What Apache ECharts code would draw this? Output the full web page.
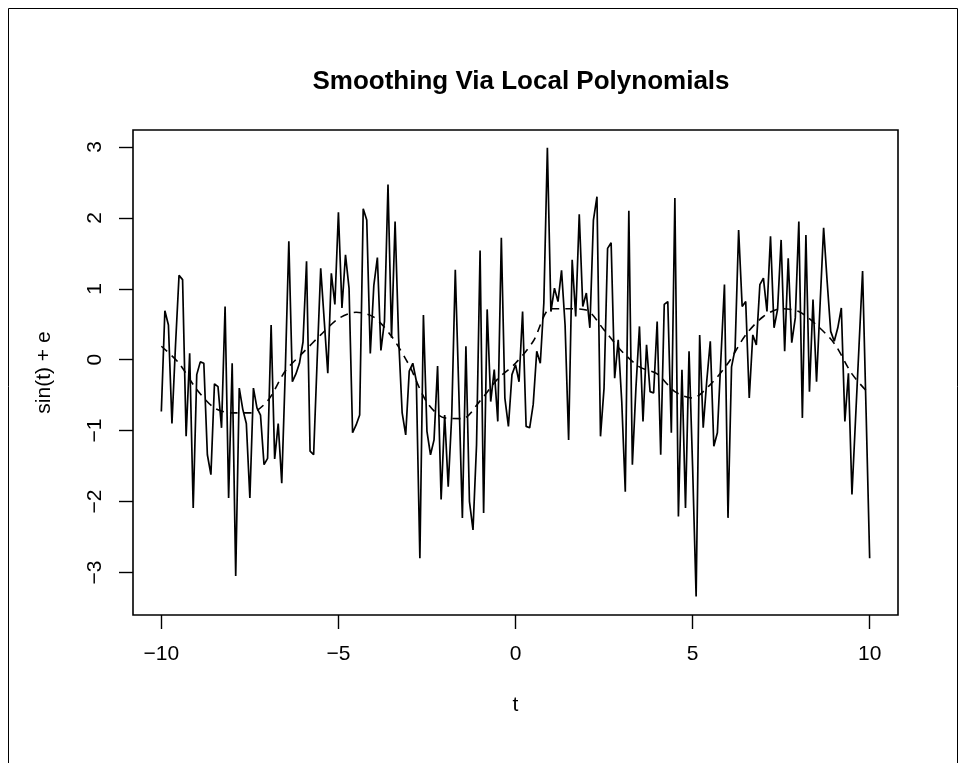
<!DOCTYPE html>
<html>
<head>
<meta charset="utf-8">
<script src="https://cdn.jsdelivr.net/npm/echarts@6/dist/echarts.min.js"></script>
<style>
  html, body { margin: 0; padding: 0; background: #fff; }
  #chart { width: 960px; height: 763px; }
</style>
</head>
<body>
<div id="chart"></div>
<script>
// noisy observations, t = -10 .. 10 step 0.1
const tStart = -10
const tStep = 0.1
const noisyValues = [
  -0.73, 0.69, 0.49, -0.9, 0.2, 1.19, 1.13, -1.08, 0.09, -2.09,
  -0.21, -0.03, -0.05, -1.34, -1.62, -0.34, -0.38, -0.96, 0.75, -1.95,
  -0.05, -3.05, -0.4, -0.7, -0.9, -1.95, -0.4, -0.68, -0.78, -1.48,
  -1.39, 0.49, -1.4, -0.9, -1.74, -0.16, 1.67, -0.31, -0.2, -0.05,
  0.25, 1.39, -1.29, -1.34, 0.0, 1.29, 0.55, -0.19, 1.22, 0.78,
  2.08, 0.73, 1.48, 1.01, -1.03, -0.92, -0.78, 2.13, 1.97, 0.09,
  1.05, 1.44, 0.13, 0.54, 2.47, 0.31, 1.95, 0.3, -0.75, -1.06,
  -0.16, -0.05, -0.3, -2.8, 0.63, -1.01, -1.34, -1.13, -0.09, -1.97,
  -0.78, -1.79, -0.78, 1.27, -0.45, -2.23, 0.19, -2.0, -2.4, -1.2,
  1.54, -2.16, 0.71, -0.59, -0.14, -0.87, 1.72, -0.54, -0.94, -0.21,
  -0.07, -0.31, 0.68, -0.94, -0.96, -0.63, 0.12, -0.05, 0.8, 2.99,
  0.68, 1.01, 0.82, 1.26, 0.49, -1.13, 1.41, 0.61, 2.05, 0.75,
  0.94, 0.45, 1.97, 2.3, -1.08, -0.4, 1.57, 1.65, -0.26, 0.28,
  -0.59, -1.86, 2.1, -1.48, -0.4, 0.47, -0.87, 0.21, -0.45, -0.47,
  0.54, -1.34, 0.78, 0.82, -1.03, 2.28, -2.21, -0.14, -2.09, 0.12,
  -1.5, -3.34, 0.35, -0.96, -0.3, 0.26, -1.22, -1.03, 0.02, 1.06,
  -2.23, -0.1, 0.15, 1.83, 0.75, 0.82, -0.54, 0.35, 0.21, 1.06,
  1.15, 0.68, 1.74, 0.45, 0.71, 1.69, 0.12, 1.43, 0.24, 0.59,
  1.95, -0.82, 1.76, -0.45, 0.85, -0.31, 0.78, 1.86, 1.1, 0.4,
  0.26, 0.45, 0.73, -0.87, -0.19, -1.9, -0.85, 0.2, 1.25, -0.75,
  -2.8
]
// local polynomial fit, read every 0.5
const smoothStep = 0.5
const smoothValues = [
  0.19, -0.05, -0.42, -0.68, -0.75, -0.75, -0.58, -0.16, 0.1, 0.35,
  0.58, 0.67, 0.6, 0.33, -0.08, -0.6, -0.82, -0.83, -0.58, -0.27,
  -0.05, 0.26, 0.72, 0.72, 0.7, 0.42, 0.12, -0.1, -0.2, -0.45,
  -0.54, -0.35, -0.05, 0.35, 0.61, 0.72, 0.68, 0.49, 0.23, -0.2,
  -0.49
]
const xTicks = [-10, -5, 0, 5, 10]
const yTicks = [-3, -2, -1, 0, 1, 2, 3]

const fontFamily = "'Liberation Sans', Arial, Helvetica, sans-serif"
const minus = function (v) { return String(v).replace('-', '\u2212') }

let noisyData = noisyValues.map(function (v, i) {
  return [+(tStart + i * tStep).toFixed(2), v]
})
let smoothData = smoothValues.map(function (v, i) {
  return [+(tStart + i * smoothStep).toFixed(2), v]
})

let myChart = echarts.init(document.getElementById('chart'))
let option = {
  backgroundColor: '#fff',
  animation: false,
  title: {
    text: 'Smoothing Via Local Polynomials',
    left: 516,
    top: 64,
    textAlign: 'center',
    textStyle: { fontFamily: fontFamily, fontSize: 26, fontWeight: 'bold', color: '#000' }
  },
  graphic: [{
    type: 'rect',
    shape: { x: 8.5, y: 8.5, width: 949, height: 780 },
    style: { fill: null, stroke: '#000', lineWidth: 1 },
    silent: true
  }],
  grid: {
    left: 133, top: 130, width: 765, height: 485,
    show: true, borderColor: '#000', borderWidth: 1.6, backgroundColor: 'transparent'
  },
  xAxis: {
    type: 'value',
    min: -10.8,
    max: 10.8,
    name: 't',
    nameLocation: 'middle',
    nameGap: 80,
    nameTextStyle: { fontFamily: fontFamily, fontSize: 21, color: '#000' },
    axisLine: { show: false, onZero: false },
    splitLine: { show: false },
    axisTick: { show: true, length: 14, customValues: xTicks, lineStyle: { color: '#000', width: 1.4 } },
    axisLabel: {
      customValues: xTicks, margin: 29, fontFamily: fontFamily, fontSize: 21, color: '#000',
      formatter: minus
    }
  },
  yAxis: {
    type: 'value',
    min: -3.6,
    max: 3.24,
    name: 'sin(t) + e',
    nameLocation: 'middle',
    nameGap: 78,
    nameRotate: 90,
    nameTextStyle: { fontFamily: fontFamily, fontSize: 21, color: '#000' },
    axisLine: { show: false, onZero: false },
    splitLine: { show: false },
    axisTick: { show: true, length: 14, customValues: yTicks, lineStyle: { color: '#000', width: 1.4 } },
    axisLabel: {
      customValues: yTicks, margin: 27, rotate: 90, fontFamily: fontFamily, fontSize: 21, color: '#000',
      formatter: minus
    }
  },
  series: [
    {
      name: 'sin(t) + e',
      type: 'line',
      data: noisyData,
      showSymbol: false,
      lineStyle: { color: '#000', width: 1.7 },
      z: 3
    },
    {
      name: 'local polynomial',
      type: 'line',
      data: smoothData,
      smooth: 0.3,
      showSymbol: false,
      lineStyle: { color: '#000', width: 1.6, type: [8, 6] },
      z: 2
    }
  ]
}
myChart.setOption(option)
</script>
</body>
</html>
